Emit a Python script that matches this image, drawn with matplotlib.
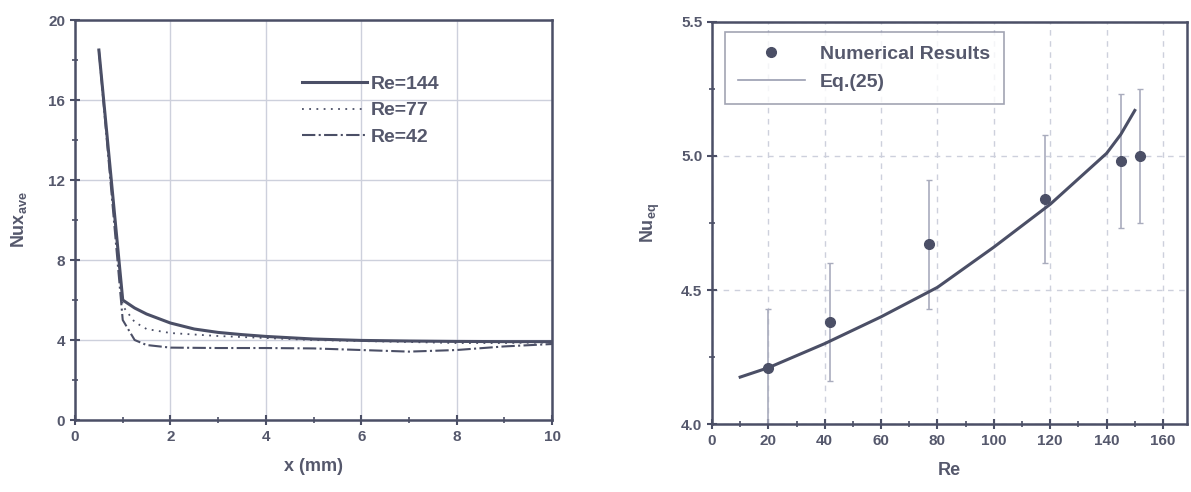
import matplotlib
matplotlib.use("Agg")
import matplotlib.pyplot as plt
from matplotlib.ticker import MultipleLocator

# left panel: local Nusselt number along x
x_144 = [0.5, 1.0, 1.25, 1.5, 2, 2.5, 3, 3.5, 4, 5, 6, 7, 8, 9, 10]
nu_144 = [18.5, 6.0, 5.6, 5.3, 4.85, 4.55, 4.38, 4.27, 4.18, 4.05, 3.98, 3.95, 3.93, 3.92, 3.92]
x_77 = [0.5, 1.0, 1.25, 1.5, 2, 3, 4, 5, 6, 7, 8, 9, 10]
nu_77 = [18.5, 5.7, 4.9, 4.55, 4.35, 4.2, 4.1, 4.0, 3.95, 3.9, 3.85, 3.85, 3.88]
x_42 = [0.5, 1.0, 1.25, 1.5, 2, 3, 4, 5, 6, 7, 8, 9, 10]
nu_42 = [18.5, 5.0, 4.0, 3.75, 3.62, 3.6, 3.6, 3.58, 3.5, 3.42, 3.5, 3.68, 3.8]

# right panel: numerical results with error bars, and Eq. (25)
re_num = [20, 42, 77, 118, 145, 152]
nu_num = [4.21, 4.38, 4.67, 4.84, 4.98, 5.0]
nu_err = [0.22, 0.22, 0.24, 0.24, 0.25, 0.25]
re_eq = [10, 20, 40, 60, 80, 100, 120, 140, 145, 150]
nu_eq = [4.175, 4.21, 4.30, 4.40, 4.51, 4.66, 4.82, 5.01, 5.08, 5.17]

ink = "#4b4f66"
txt = "#55586c"
grid_c = "#cdd0dc"

plt.rcParams["font.family"] = ["Liberation Sans", "DejaVu Sans"]
plt.rcParams["font.weight"] = "bold"
plt.rcParams["axes.labelweight"] = "bold"
plt.rcParams["text.color"] = txt
plt.rcParams["axes.labelcolor"] = txt
plt.rcParams["xtick.color"] = ink
plt.rcParams["ytick.color"] = ink
plt.rcParams["xtick.labelcolor"] = txt
plt.rcParams["ytick.labelcolor"] = txt

fig = plt.figure(figsize=(11.91, 4.92), dpi=100)
ax1 = fig.add_axes([0.0630, 0.1463, 0.4005, 0.8130])
ax2 = fig.add_axes([0.5978, 0.1382, 0.3988, 0.8171])

# left
ax1.plot(x_144, nu_144, color=ink, lw=2.2, ls="-", label="Re=144", zorder=4)
ax1.plot(x_77, nu_77, color=ink, lw=1.3, ls=(0, (1, 3)), label="Re=77", zorder=3)
ax1.plot(x_42, nu_42, color=ink, lw=1.5, ls="-.", label="Re=42", zorder=3)
ax1.set_xlim(0, 10)
ax1.set_ylim(0, 20)
ax1.xaxis.set_major_locator(MultipleLocator(2))
ax1.xaxis.set_minor_locator(MultipleLocator(1))
ax1.yaxis.set_major_locator(MultipleLocator(4))
ax1.yaxis.set_minor_locator(MultipleLocator(2))
ax1.grid(True, which="major", color=grid_c, lw=1.0)
ax1.set_xlabel("x (mm)", fontsize=13, labelpad=10)
ax1.set_ylabel("Nux$_{\\mathregular{ave}}$", fontsize=13, labelpad=14)
leg1 = ax1.legend(loc="upper left", bbox_to_anchor=(0.44, 0.905), frameon=False,
                  fontsize=14, handlelength=3.3, handletextpad=0.2, labelspacing=0.45)

# right
ax2.errorbar(re_num, nu_num, yerr=nu_err, fmt="none", ecolor="#a9acbd", elinewidth=1.2,
             capsize=2, zorder=2)
ax2.plot(re_num, nu_num, "o", color=ink, ms=7, ls="none", label="Numerical Results", zorder=5)
ax2.plot(re_eq, nu_eq, color=ink, lw=2.2, label="Eq.(25)", zorder=4)
ax2.set_xlim(0, 168.5)
ax2.set_ylim(4.0, 5.5)
ax2.xaxis.set_major_locator(MultipleLocator(20))
ax2.xaxis.set_minor_locator(MultipleLocator(10))
ax2.yaxis.set_major_locator(MultipleLocator(0.5))
ax2.yaxis.set_minor_locator(MultipleLocator(0.25))
ax2.yaxis.set_major_formatter(plt.FormatStrFormatter("%.1f"))
ax2.grid(True, which="major", color=grid_c, lw=1.0, ls=(0, (4, 4)))
ax2.set_xlabel("Re", fontsize=13, labelpad=10)
ax2.set_ylabel("Nu$_{\\mathregular{eq}}$", fontsize=13, labelpad=14)
leg2 = ax2.legend(loc="upper left", fontsize=14, fancybox=False, edgecolor="#8a8da0",
                  handlelength=3.4, borderpad=0.7, borderaxespad=0,
                  bbox_to_anchor=(0.027, 0.975))
leg2.get_frame().set_linewidth(1.2)
leg2.legend_handles[1].set_color("#9a9db0")
leg2.legend_handles[1].set_linewidth(1.2)

for ax in (ax1, ax2):
    for s in ax.spines.values():
        s.set_color(ink)
        s.set_linewidth(1.8)
    ax.tick_params(which="major", direction="inout", length=7, width=1.5, labelsize=11)
    ax.tick_params(which="minor", direction="inout", length=5, width=1.2)

fig.savefig("out.png", dpi=100)
